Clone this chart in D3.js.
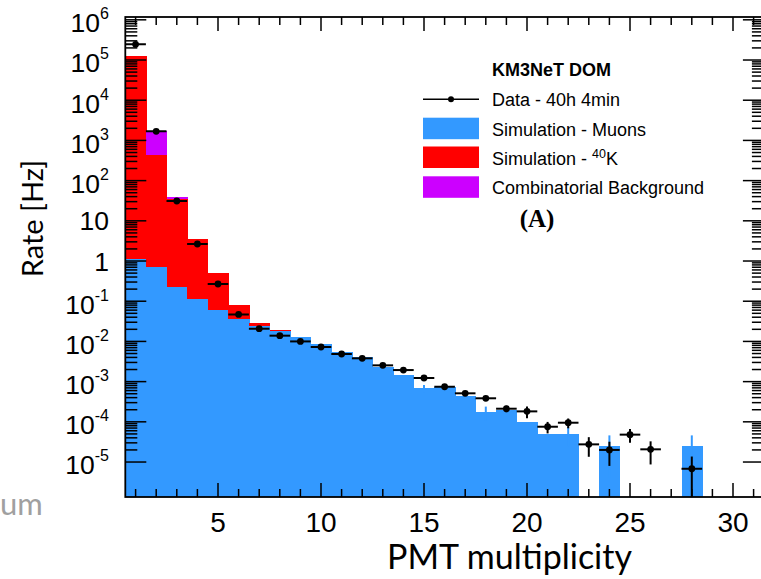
<!DOCTYPE html>
<html>
<head>
<meta charset="utf-8">
<script src="https://cdn.jsdelivr.net/npm/d3@7"></script>
<style>
  body { margin: 0; background: #fff; }
  svg { display: block; }
</style>
</head>
<body>
<div class="canva"></div>
<script>
// bins of PMT multiplicity (bin width 1)
const bins = [1, 2, 3, 4, 5, 6, 7, 8, 9, 10, 11, 12, 13, 14, 15, 16, 17, 18, 19, 20, 21, 22, 23, 24, 25, 26, 27, 28];

// simulated rates [Hz], stacked: muons, then 40K, then combinatorial
const muons = [1.10, 0.72, 0.23, 0.114, 0.060, 0.037, 0.024, 0.0182, 0.01285, 0.0086, 0.00536, 0.00402, 0.00235, 0.00146,
               6.8e-4, 7.2e-4, 4.4e-4, 1.72e-4, 1.97e-4, 9.9e-5, 4.98e-5, 4.98e-5, 0, 2.5e-5, 0, 0, 0, 2.5e-5];
const muonErr = [0, 0, 0, 0, 0, 0, 0, 0, 0, 0, 0, 0, 0, 0,
                 1.5e-4, 0, 0, 6.7e-5, 0, 0, 0, 2.6e-5, 0, 2.1e-5, 0, 0, 0, 2.1e-5];
const k40 = [1.26e5, 425, 34.6, 3.36, 0.434, 0.043, 0.0042, 0.0006, 0, 0, 0, 0, 0, 0,
             0, 0, 0, 0, 0, 0, 0, 0, 0, 0, 0, 0, 0, 0];
const combinatorial = [0, 1316, 4.3, 0, 0, 0, 0, 0, 0, 0, 0, 0, 0, 0,
                       0, 0, 0, 0, 0, 0, 0, 0, 0, 0, 0, 0, 0, 0];

// measured rates [Hz] and their errors (null = empty bin)
const dataRate = [2.46e5, 1683, 31.1, 2.65, 0.268, 0.047, 0.0207, 0.0139, 0.0100, 0.00726, 0.00486, 0.0038, 0.00254, 0.00194,
                  0.00123, 7.46e-4, 5.12e-4, 3.85e-4, 2.12e-4, 1.82e-4, 7.55e-5, 9.5e-5, 2.75e-5, 2.0e-5, 4.8e-5, 2.07e-5, null, 6.8e-6];
const dataErr = [1.3, 0.11, 0.015, 0.0043, 0.0014, 5.7e-4, 3.8e-4, 3.1e-4, 2.6e-4, 2.2e-4, 1.8e-4, 1.6e-4, 1.3e-4, 1.16e-4,
                 9.2e-5, 7.2e-5, 6.0e-5, 5.2e-5, 4.0e-5, 6.0e-5, 2.4e-5, 2.6e-5, 1.4e-5, 1.2e-5, 1.8e-5, 1.2e-5, null, 6.9e-6];

const xTicksMajor = [5, 10, 15, 20, 25, 30];
const yDecades = [-5, -4, -3, -2, -1, 0, 1, 2, 3, 4, 5, 6];

const legendTitle = "KM3NeT DOM";
const legendItems = ["Data - 40h 4min", "Simulation - Muons", "Simulation - ", "Combinatorial Background"];

const COLORS = { muon: "#3399ff", k40: "#ff0000", comb: "#cc00ff" };

const W = 761, H = 579;
const FRAME = { LEFT: 125.3, RIGHT: 763.9, TOP: 17, BOTTOM: 497 };

const svg = d3.select(".canva").append("svg")
              .attr("width", W)
              .attr("height", H);

const x = d3.scaleLinear().domain([0.5, 31.5]).range([FRAME.LEFT, FRAME.RIGHT]);
const y = d3.scaleLog().domain([Math.pow(10, -5.87), Math.pow(10, 6.07)]).range([FRAME.BOTTOM, FRAME.TOP]);

const clampY = v => (v <= 0 ? FRAME.BOTTOM : Math.min(FRAME.BOTTOM, Math.max(FRAME.TOP, y(v))));

const plot = svg.append("g");
plot.append("clipPath").attr("id", "clip")
    .append("rect")
    .attr("x", FRAME.LEFT).attr("y", FRAME.TOP)
    .attr("width", FRAME.RIGHT - FRAME.LEFT).attr("height", FRAME.BOTTOM - FRAME.TOP);
const inner = plot.append("g").attr("clip-path", "url(#clip)");

// stacked histogram
const stack = bins.map((b, i) => {
    const m = muons[i], k = m + k40[i], c = k + combinatorial[i];
    return { b, layers: [[0, m, COLORS.muon], [m, k, COLORS.k40], [k, c, COLORS.comb]] };
});

const histG = inner.append("g").attr("shape-rendering", "crispEdges");
stack.forEach(d => {
    d.layers.forEach(([lo, hi, col]) => {
        if (hi <= lo) return;
        histG.append("rect")
             .attr("x", x(d.b - 0.5))
             .attr("width", x(d.b + 0.5) - x(d.b - 0.5) + 0.6)
             .attr("y", clampY(hi))
             .attr("height", clampY(lo) - clampY(hi))
             .attr("fill", col);
    });
});

// MC error bars
inner.selectAll(".mcerr")
     .data(bins.filter((b, i) => muonErr[i] > 0))
     .enter().append("line")
     .attr("x1", b => x(b)).attr("x2", b => x(b))
     .attr("y1", b => clampY(muons[b - 1] + muonErr[b - 1]))
     .attr("y2", b => clampY(muons[b - 1] - muonErr[b - 1]))
     .attr("stroke", COLORS.muon)
     .attr("stroke-width", 2);

// data points
const pts = bins.map((b, i) => ({ b, v: dataRate[i], e: dataErr[i] })).filter(d => d.v != null);
const dataG = inner.append("g");
dataG.selectAll(".hx").data(pts).enter().append("line")
     .attr("x1", d => x(d.b - 0.5)).attr("x2", d => x(d.b + 0.5))
     .attr("y1", d => y(d.v)).attr("y2", d => y(d.v))
     .attr("stroke", "#000").attr("stroke-width", 2);
dataG.selectAll(".hy").data(pts).enter().append("line")
     .attr("x1", d => x(d.b)).attr("x2", d => x(d.b))
     .attr("y1", d => clampY(d.v + d.e)).attr("y2", d => clampY(d.v - d.e))
     .attr("stroke", "#000").attr("stroke-width", 2);
dataG.selectAll("circle").data(pts).enter().append("circle")
     .attr("cx", d => x(d.b)).attr("cy", d => y(d.v))
     .attr("r", 3.4).attr("fill", "#000");

// ticks
const axisG = svg.append("g").attr("stroke", "#000").attr("stroke-width", 1.5);
const xMinor = d3.range(1, 32);
xMinor.forEach(v => {
    const len = xTicksMajor.includes(v) ? 14 : 8;
    axisG.append("line").attr("x1", x(v)).attr("x2", x(v)).attr("y1", FRAME.BOTTOM).attr("y2", FRAME.BOTTOM - len);
    axisG.append("line").attr("x1", x(v)).attr("x2", x(v)).attr("y1", FRAME.TOP).attr("y2", FRAME.TOP + len);
});
const [yLo, yHi] = y.domain();
yDecades.forEach(k => {
    for (let m = 1; m <= 9; m++) {
        const v = m * Math.pow(10, k);
        if (v < yLo || v > yHi) continue;
        const len = m === 1 ? 21 : 12;
        axisG.append("line").attr("x1", FRAME.LEFT).attr("x2", FRAME.LEFT + len).attr("y1", y(v)).attr("y2", y(v));
        axisG.append("line").attr("x1", FRAME.RIGHT).attr("x2", FRAME.RIGHT - len).attr("y1", y(v)).attr("y2", y(v));
    }
});
// frame
svg.append("rect")
   .attr("x", FRAME.LEFT).attr("y", FRAME.TOP)
   .attr("width", FRAME.RIGHT - FRAME.LEFT).attr("height", FRAME.BOTTOM - FRAME.TOP)
   .attr("fill", "none").attr("stroke", "#000").attr("stroke-width", 1.8);

// y labels
const yLab = svg.append("g").attr("font-family", "'Liberation Sans', Arial, sans-serif").attr("fill", "#000");
yDecades.forEach(k => {
    const ty = y(Math.pow(10, k));
    const t = yLab.append("text").attr("x", 109).attr("text-anchor", "end").attr("font-size", 26.5);
    if (k === 0 || k === 1) {
        t.attr("y", ty + 9.5).text(k === 0 ? "1" : "10");
    } else {
        t.attr("y", ty + 12.3);
        t.append("tspan").text("10");
        t.append("tspan").attr("font-size", 16).attr("dy", -13).text(k);
    }
});

// x labels
svg.append("g").selectAll("text").data(xTicksMajor).enter().append("text")
   .attr("x", d => x(d)).attr("y", 531.7)
   .attr("text-anchor", "middle")
   .attr("font-family", "'Liberation Sans', Arial, sans-serif")
   .attr("font-size", 28)
   .text(d => d);

// axis titles
svg.append("text")
   .attr("transform", "translate(43,218.5) rotate(-90)")
   .attr("text-anchor", "middle")
   .attr("font-family", "Lato, 'Open Sans', sans-serif")
   .attr("font-size", 29)
   .text("Rate [Hz]");
svg.append("text")
   .attr("x", 509.5).attr("y", 569)
   .attr("text-anchor", "middle")
   .attr("font-family", "Lato, 'Open Sans', sans-serif")
   .attr("font-size", 34)
   .text("PMT multiplicity");

// stray text at left edge
svg.append("text")
   .attr("x", 0).attr("y", 515)
   .attr("font-family", "Lato, 'Open Sans', sans-serif")
   .attr("font-size", 31)
   .attr("fill", "#a0a0a0")
   .text("um");

// legend
const leg = svg.append("g").attr("font-family", "'Liberation Sans', Arial, sans-serif").attr("font-size", 18);
leg.append("text").attr("x", 492).attr("y", 76).attr("font-weight", "bold").text(legendTitle);
const baselines = [105.7, 135.7, 164.5, 194.3];
leg.append("line").attr("x1", 423).attr("x2", 479).attr("y1", 99.3).attr("y2", 99.3)
   .attr("stroke", "#000").attr("stroke-width", 1.5);
leg.append("circle").attr("cx", 451).attr("cy", 99.3).attr("r", 3).attr("fill", "#000");
[COLORS.muon, COLORS.k40, COLORS.comb].forEach((c, i) => {
    leg.append("rect").attr("x", 423).attr("y", baselines[i + 1] - 18).attr("width", 56).attr("height", 21.5).attr("fill", c);
});
legendItems.forEach((txt, i) => {
    const t = leg.append("text").attr("x", 492).attr("y", baselines[i]).text(txt);
    if (i === 2) {
        t.append("tspan").attr("font-size", 12.5).attr("dy", -7).text("40");
        t.append("tspan").attr("dy", 7).text("K");
    }
});
svg.append("text")
   .attr("x", 537).attr("y", 227)
   .attr("text-anchor", "middle")
   .attr("font-family", "'Liberation Serif', 'Times New Roman', serif")
   .attr("font-weight", "bold")
   .attr("font-size", 25)
   .text("(A)");
</script>
</body>
</html>
